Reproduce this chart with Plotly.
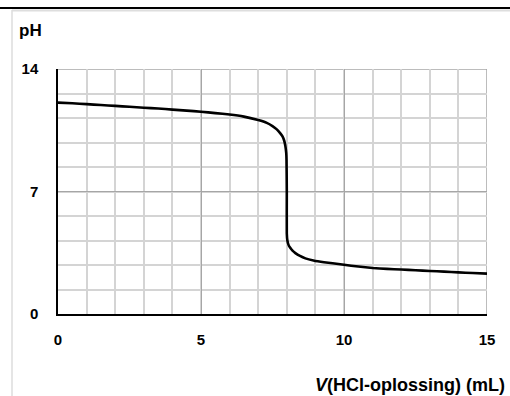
import plotly.graph_objects as go

volume_ml = [0, 0.5, 1, 1.5, 2, 2.5, 3, 3.5, 4, 4.5, 5, 5.5, 6, 6.5, 7, 7.3, 7.5, 7.65, 7.76,
             7.85, 7.91, 7.95, 7.98, 7.99, 8.0, 8.0, 8.02, 8.06, 8.12, 8.2, 8.3, 8.46, 8.65,
             8.93, 9.3, 9.6, 10, 10.5, 11, 11.5, 12, 12.5, 13, 13.5, 14, 14.5, 15]
ph_values = [12.08, 12.04, 11.99, 11.94, 11.89, 11.84, 11.79, 11.74, 11.68, 11.62, 11.56,
             11.48, 11.4, 11.28, 11.08, 10.92, 10.74, 10.55, 10.35, 10.15, 9.9, 9.6, 9.2,
             8.8, 7.0, 4.6, 4.2, 3.95, 3.78, 3.62, 3.48, 3.32, 3.18, 3.06, 2.96, 2.9, 2.81,
             2.71, 2.63, 2.58, 2.54, 2.5, 2.46, 2.42, 2.38, 2.34, 2.31]

x_ticks = [0, 5, 10, 15]
y_ticks = [0, 7, 14]

W, H = 510, 396
L, R, T, B = 58, 487, 69, 314

font_family = "Liberation Sans, Arial, sans-serif"

fig = go.Figure()
fig.add_trace(go.Scatter(x=volume_ml, y=ph_values, mode="lines",
                         line=dict(color="black", width=2.6, shape="spline", smoothing=0.4),
                         hoverinfo="skip", showlegend=False))

def px2paper_x(px):
    return (px - L) / (R - L)

def px2paper_y(py):
    return (B - py) / (B - T)

shapes = [
    dict(type="line", xref="x", yref="y", x0=0, x1=15, y0=14, y1=14,
         line=dict(color="#a6a6a6", width=1.5), layer="below"),
    dict(type="line", xref="x", yref="y", x0=15, x1=15, y0=0, y1=14,
         line=dict(color="#a6a6a6", width=1.5), layer="below"),
    dict(type="line", xref="paper", yref="paper", x0=px2paper_x(12), x1=px2paper_x(510),
         y0=px2paper_y(10.5), y1=px2paper_y(10.5), line=dict(color="#dedede", width=2)),
    dict(type="line", xref="paper", yref="paper", x0=px2paper_x(12), x1=px2paper_x(12),
         y0=px2paper_y(10), y1=px2paper_y(396), line=dict(color="#dcdcdc", width=1.5)),
    dict(type="line", xref="paper", yref="paper", x0=px2paper_x(0), x1=px2paper_x(510),
         y0=px2paper_y(8), y1=px2paper_y(8), line=dict(color="black", width=2)),
]

fig.update_layout(
    width=W, height=H,
    margin=dict(l=L, r=W - R, t=T, b=H - B),
    paper_bgcolor="white", plot_bgcolor="white",
    font=dict(family=font_family, size=15, color="black"),
    shapes=shapes,
    xaxis=dict(range=[0, 15], tickvals=x_ticks, ticktext=[f"<b>{v}</b>" for v in x_ticks],
               showgrid=True, gridcolor="#a6a6a6", gridwidth=1.2,
               minor=dict(dtick=1, tick0=0, showgrid=True, gridcolor="#d4d4d4", gridwidth=1.5),
               showline=True, linecolor="black", linewidth=1.5, ticks="",
               ticklabelstandoff=11, zeroline=False, fixedrange=True),
    yaxis=dict(range=[0, 14], tickvals=y_ticks, ticktext=[f"<b>{v}</b>" for v in y_ticks],
               showgrid=True, gridcolor="#a6a6a6", gridwidth=1.2,
               minor=dict(dtick=1.4, tick0=0, showgrid=True, gridcolor="#d4d4d4", gridwidth=1.5),
               showline=True, linecolor="black", linewidth=1.5, ticks="",
               ticklabelstandoff=15, zeroline=False, fixedrange=True),
    annotations=[
        dict(text="<b>pH</b>", xref="paper", yref="paper", x=px2paper_x(17), y=px2paper_y(31),
             xanchor="left", yanchor="middle", showarrow=False, font=dict(size=17)),
        dict(text="<b><i>V</i>(HCl-oplossing) (mL)</b>", xref="paper", yref="paper",
             x=px2paper_x(507), y=px2paper_y(385), xanchor="right", yanchor="middle",
             showarrow=False, font=dict(size=18)),
    ],
)

fig.write_html("out.html", config={"displayModeBar": False},
               post_script="document.body.style.margin='0';document.body.style.overflow='hidden';")
